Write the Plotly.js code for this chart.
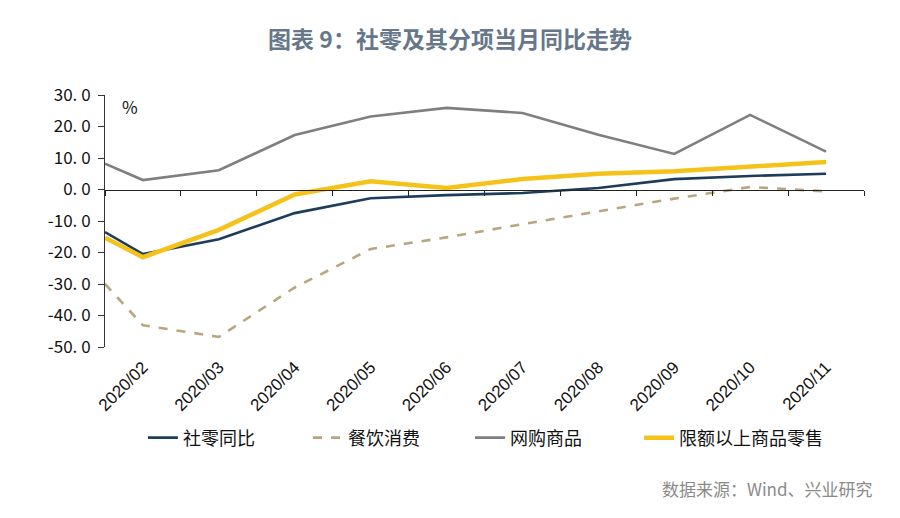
<!DOCTYPE html>
<html>
<head>
<meta charset="utf-8">
<script src="https://cdn.plot.ly/plotly-3.0.1.min.js"></script>
<style>html,body{margin:0;padding:0;background:#fff;}#chart{width:900px;height:518px;}</style>
</head>
<body>
<div id="chart"></div>
<script>
// Month categories (labelled on the x axis)
const categories = ["2020/02","2020/03","2020/04","2020/05","2020/06","2020/07","2020/08","2020/09","2020/10","2020/11"];
// Series (% yoy); "...Edge" = value where each line enters at the left edge of the plot
const retailEdge = -13.5;
const retail   = [-20.5, -15.8, -7.5, -2.8, -1.8, -1.1, 0.5, 3.3, 4.3, 5.0];
const cateringEdge = -30.0;
const catering = [-43.1, -46.8, -31.1, -18.9, -15.2, -11.0, -7.0, -2.9, 0.8, -0.6];
const onlineEdge = 8.2;
const online   = [3.0, 6.1, 17.3, 23.2, 25.9, 24.3, 17.4, 11.3, 23.7, 12.0];
const aboveEdge = -15.3;
const above    = [-21.5, -12.8, -1.6, 2.6, 0.5, 3.3, 5.0, 5.8, 7.2, 8.7];
const seriesNames = ["社零同比","餐饮消费","网购商品","限额以上商品零售"];
const yTicks = [-50,-40,-30,-20,-10,0,10,20,30];
const yTickText = yTicks.map(v => v.toFixed(1).replace(".", ". "));

const idx = categories.map((c,i)=>i);
const xs = [-0.5].concat(idx);
const boundaries = [-0.5].concat(idx.map(i=>i+0.5));

const cjk = '"Noto Sans CJK SC", "Noto Sans", sans-serif';

const traces = [
  {x: xs, y: [retailEdge].concat(retail), name: seriesNames[0], legend:'legend', mode: 'lines', line:{color:'#1e3d5c', width:2.6}},
  {x: xs, y: [cateringEdge].concat(catering), name: seriesNames[1], legend:'legend2', mode: 'lines', line:{color:'#b8a67e', width:2.6, dash:'dash'}},
  {x: xs, y: [onlineEdge].concat(online), name: seriesNames[2], legend:'legend3', mode: 'lines', line:{color:'#7f7f7f', width:2.6}},
  {x: xs, y: [aboveEdge].concat(above), name: seriesNames[3], legend:'legend4', mode: 'lines', line:{color:'#f5c21a', width:4.5}},
  {x: [], y: [], xaxis:'x2', showlegend:false, hoverinfo:'skip', mode:'lines'}
];

const legendBase = (x) => ({orientation:'h', x:x, xanchor:'left', y:-0.361, yanchor:'middle',
  font:{family: cjk, size:18, color:'#111'}, bgcolor:'rgba(0,0,0,0)'});

const layout = {
  width: 900, height: 518,
  margin: {l:105, r:36, t:95, b:171},
  paper_bgcolor:'#fff', plot_bgcolor:'#fff',
  title: {text: '<b>图表 9：社零及其分项当月同比走势</b>', x:0.5, xanchor:'center', y:0.922, yanchor:'middle',
          font:{family: cjk, size:23, color:'#66778a'}},
  xaxis: {range:[-0.5, 9.5], tickvals: idx, ticktext: categories, tickangle:-45,
          showgrid:false, zeroline:false, showline:false, ticks:'', ticklabelstandoff:6,
          tickfont:{family:'Arial, "Liberation Sans", sans-serif', size:17, color:'#111'}, fixedrange:true},
  xaxis2: {overlaying:'x', anchor:'free', position:0.625, range:[-0.5,9.5],
           tickvals: boundaries, showticklabels:false, ticks:'outside', ticklen:5, tickcolor:'#222',
           showline:true, linecolor:'#222', linewidth:1, showgrid:false, zeroline:false, side:'bottom'},
  yaxis: {range:[-50,30], tickvals:yTicks, ticktext:yTickText, showgrid:false, zeroline:false,
          showline:true, linecolor:'#333', linewidth:1, ticks:'outside', ticklen:6, tickcolor:'#333',
          ticklabelstandoff:4,
          tickfont:{family: cjk, size:17, color:'#111'}},
  showlegend:true,
  legend: legendBase(0.050),
  legend2: legendBase(0.2675),
  legend3: legendBase(0.481),
  legend4: legendBase(0.7036),
  annotations:[
    {text:'%', xref:'paper', yref:'paper', x:0.02, y:1.01, xanchor:'left', yanchor:'top', showarrow:false,
     font:{family:cjk, size:17, color:'#111'}},
    {text:'数据来源：Wind、兴业研究', xref:'paper', yref:'paper', x:1.015, y:-0.56, xanchor:'right', yanchor:'middle',
     showarrow:false, font:{family:cjk, size:17, color:'#8a8a8a'}}
  ]
};

Plotly.newPlot('chart', traces, layout, {displayModeBar:false, staticPlot:true});
</script>
</body>
</html>
